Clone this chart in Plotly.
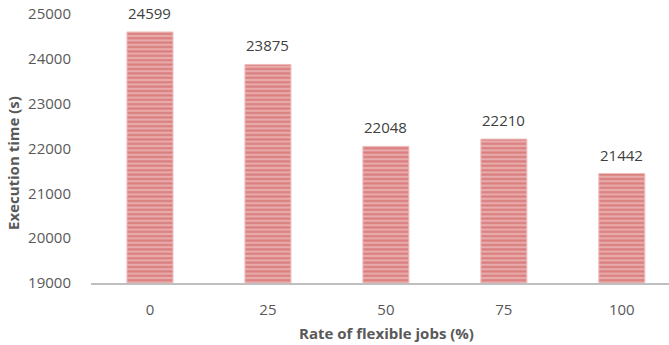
import plotly.graph_objects as go

categories = ["0", "25", "50", "75", "100"]
exec_time = [24599, 23875, 22048, 22210, 21442]
y_ticks = [19000, 20000, 21000, 22000, 23000, 24000, 25000]

FONT = "Open Sans"
TXT = "#595959"

fig = go.Figure()
fig.add_trace(go.Bar(
    x=categories, y=exec_time, width=0.39,
    marker=dict(
        color="#e7a6a6",
        line=dict(color="#efbcbc", width=1),
        pattern=dict(shape="-", fgcolor="#cb5353", bgcolor="#e9abab", size=4.4, solidity=0.5),
    ),
    hoverinfo="skip",
))

for i, v in enumerate(exec_time):
    fig.add_annotation(x=i, y=v, text=str(v), showarrow=False, yanchor="bottom",
                       yshift=7, font=dict(family=FONT, size=15, color="#404040"))

fig.add_annotation(xref="paper", yref="paper", x=-0.135, y=0.446, xanchor="center",
                   yanchor="middle", text="<b>Execution time (s)</b>",
                   textangle=-90, showarrow=False, font=dict(family=FONT, size=15, color=TXT))
fig.add_annotation(xref="paper", yref="paper", x=0.512, y=-0.186, xanchor="center",
                   yanchor="middle",
                   text="<b>Rate of flexible jobs (%)</b>", showarrow=False,
                   font=dict(family=FONT, size=15, color=TXT))

fig.update_layout(
    width=669, height=345,
    margin=dict(l=91, r=0, t=14, b=62),
    plot_bgcolor="white", paper_bgcolor="white",
    showlegend=False,
    xaxis=dict(type="category", range=[-0.5, 4.4], showgrid=False, showline=True,
               linecolor="#bfbfbf", linewidth=2, ticks="outside", ticklen=12,
               tickcolor="rgba(0,0,0,0)", tickfont=dict(family=FONT, size=15, color=TXT),
               fixedrange=True),
    yaxis=dict(range=[19000, 25000], tickvals=y_ticks, tickformat="d", showgrid=False,
               showline=False, zeroline=False, ticks="outside", ticklen=16,
               tickcolor="rgba(0,0,0,0)",
               tickfont=dict(family=FONT, size=15, color=TXT), fixedrange=True),
)

fig.write_html("out.html")
